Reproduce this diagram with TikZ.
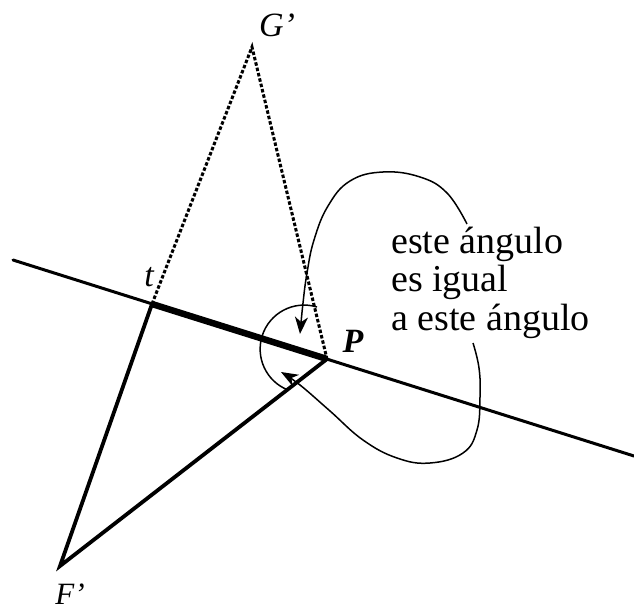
\documentclass[tikz,border=0pt]{standalone}
\usepackage{fontspec}
\setmainfont{Liberation Serif}
\usetikzlibrary{arrows.meta}
\begin{document}
\begin{tikzpicture}[x=1pt,y=-1pt,
  baseline/.style={line width=3pt},
  heavyline/.style={line width=6.5pt},
  sideline/.style={line width=3.8pt},
  dashline/.style={line width=3pt, dash pattern=on 3.5pt off 2pt},
  callout/.style={line width=1.5pt, -{Stealth[length=17pt,width=13pt,inset=5pt]}},
  arcline/.style={line width=1.5pt},
  lab/.style={font=\fontsize{34}{34}\selectfont\itshape, inner sep=0pt, anchor=base},
  txt/.style={font=\fontsize{38}{38.5}\selectfont, inner sep=0pt, align=left, anchor=base west}]
\useasboundingbox (0,0) rectangle (634,612);
\fill[white] (0,0) rectangle (634,612);
% points
\coordinate (G) at (252,47);
\coordinate (T) at (152,304);
\coordinate (P) at (327,359);
\coordinate (F) at (60,566);
\coordinate (L1) at (13,260);
\coordinate (L2) at (634,456);
% mirror line
\draw[baseline, line cap=round] (L1) -- (L2);
\draw[heavyline] (T) -- (P);
% solid sides
\draw[sideline, line join=miter] (T) -- (F) -- (P);
% dashed sides
\draw[dashline] (T) -- (G) -- (P);
% angle arc
\coordinate (A0) at (317,307);
\draw[arcline] (A0) arc[start angle=287, end angle=112, radius=44];
% text
\node[txt] (msg) at (391,330) {este ángulo\\es igual\\a este ángulo};
% callouts
\draw[callout] plot[smooth, tension=0.7] coordinates {(467,224) (447,193) (420,177) (383,172) (350,181) (328,206) (314,240) (307,273) (303,303) (300,334)};
\draw[callout] plot[smooth, tension=0.7] coordinates {(473,343) (479,368) (480,397) (477,430) (463,453) (430,463) (397,458) (363,440) (330,411) (300,385) (281,372)};
% labels
\node[lab] (Gl) at (277,37) {G'};
\node[lab] (tl) at (149,287) {t};
\node[lab, font=\fontsize{34}{34}\selectfont\bfseries\itshape] (Pl) at (353,352) {P};
\node[lab, font=\fontsize{31}{31}\selectfont\itshape] (Fl) at (70,604) {F'};
\end{tikzpicture}
\end{document}
